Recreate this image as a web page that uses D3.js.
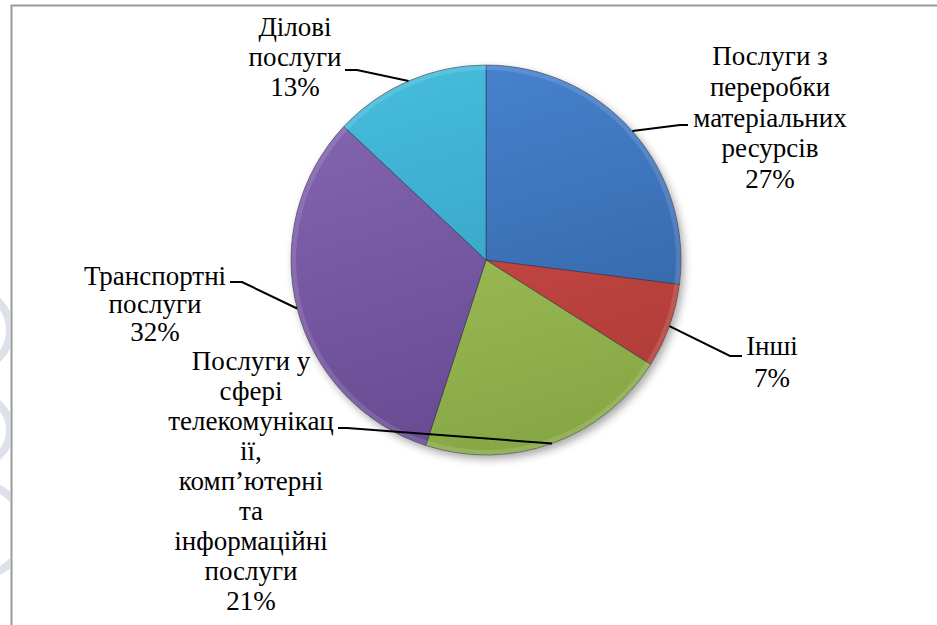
<!DOCTYPE html>
<html><head><meta charset="utf-8">
<script src="https://cdn.jsdelivr.net/npm/d3@7"></script>
</head><body style="margin:0">
<svg id="chart" width="937" height="625"></svg>
<script>
// ---- data ----
const categories = [
  ["Послуги з", "переробки", "матеріальних", "ресурсів"],
  ["Інші"],
  ["Послуги у", "сфері", "телекомунікац", "ії,", "комп’ютерні", "та", "інформаційні", "послуги"],
  ["Транспортні", "послуги"],
  ["Ділові", "послуги"]
];
const values = [27, 7, 21, 32, 13];
const percentLabels = ["27%", "7%", "21%", "32%", "13%"];

// ---- layout / style ----
const W = 937, H = 625;
const cx = 486, cy = 260, R = 195;
const colorsTop = ["#4783cf", "#d2504b", "#a6c95a", "#8465b0", "#45bbdc"];
const colorsBot = ["#32609f", "#ad3a36", "#86a645", "#654890", "#2f98b8"];
// label layout: knee point, line end x, label centre x, first line centre y, line step
const labelLayout = [
  {knee:[680,125], end:688, lx:770, ly:57,  step:30.8},
  {knee:[730,356], end:742, lx:772, ly:347, step:32},
  {knee:[347,428], end:338, lx:251, ly:362, step:30},
  {knee:[242,282], end:230, lx:155, ly:277, step:28},
  {knee:[357,70],  end:345, lx:295, ly:28,  step:30}
];

const svg = d3.select("#chart");
const defs = svg.append("defs");

// faint watermark left of frame (clipped)
defs.append("clipPath").attr("id","wmclip").append("rect").attr("x",0).attr("y",0).attr("width",10).attr("height",H);
const wm = svg.append("g").attr("clip-path","url(#wmclip)");
[[-30, 330, 40], [-25, 430, 35], [-20, 530, 45], [-35, 250, 30]].forEach(([x,y,r])=>{
  wm.append("circle").attr("cx",x).attr("cy",y).attr("r",r).attr("fill","none").attr("stroke","#dde1ea").attr("stroke-width",8);
});

// frame
svg.append("path").attr("d", `M11.5,${H} V5.5 H${W}`).attr("fill","none").attr("stroke","#9a9a9a").attr("stroke-width",2);

// shadow filter
const f = defs.append("filter").attr("id","sh").attr("x","-20%").attr("y","-20%").attr("width","140%").attr("height","140%");
f.append("feDropShadow").attr("dx",3).attr("dy",4).attr("stdDeviation",4).attr("flood-color","#000").attr("flood-opacity",0.35);

// gradients
values.forEach((v,i)=>{
  const g = defs.append("linearGradient").attr("id","g"+i)
    .attr("gradientUnits","userSpaceOnUse").attr("x1",-R*0.3).attr("y1",-R).attr("x2",R*0.3).attr("y2",R);
  g.append("stop").attr("offset","0%").attr("stop-color",colorsTop[i]);
  g.append("stop").attr("offset","100%").attr("stop-color",colorsBot[i]);
});

const pie = d3.pie().sort(null).value(d=>d)(values);
const arc = d3.arc().innerRadius(0).outerRadius(R);

const gp = svg.append("g").attr("transform",`translate(${cx},${cy})`);
gp.append("circle").attr("r",R).attr("fill","#888").attr("filter","url(#sh)");
gp.selectAll("path.slice").data(pie).join("path").attr("class","slice")
  .attr("d",arc)
  .attr("fill",(d,i)=>`url(#g${i})`)
  .attr("stroke","rgba(40,40,60,0.6)")
  .attr("stroke-width",0.8);

// bevel highlight on each slice
const inner = d3.arc().innerRadius(R-5).outerRadius(R);
gp.selectAll("path.bevel").data(pie).join("path").attr("class","bevel")
  .attr("d",inner).attr("fill","#fff").attr("opacity",0.12);

// leader lines and labels (each line is its own text element)
pie.forEach((d,i)=>{
  const a = (d.startAngle + d.endAngle)/2;
  const p0 = [cx + R*Math.sin(a), cy - R*Math.cos(a)];
  const L = labelLayout[i];
  svg.append("polyline")
    .attr("points",[p0, L.knee, [L.end, L.knee[1]]].map(p=>p.join(",")).join(" "))
    .attr("fill","none").attr("stroke","#000").attr("stroke-width",2);
  const lines = categories[i].concat([percentLabels[i]]);
  lines.forEach((s,k)=>{
    svg.append("text")
      .attr("x",L.lx).attr("y",L.ly + k*L.step + 8)
      .attr("text-anchor","middle")
      .style("font-family",'"Liberation Serif"')
      .style("font-size","27px")
      .text(s);
  });
});
</script>
</body></html>
